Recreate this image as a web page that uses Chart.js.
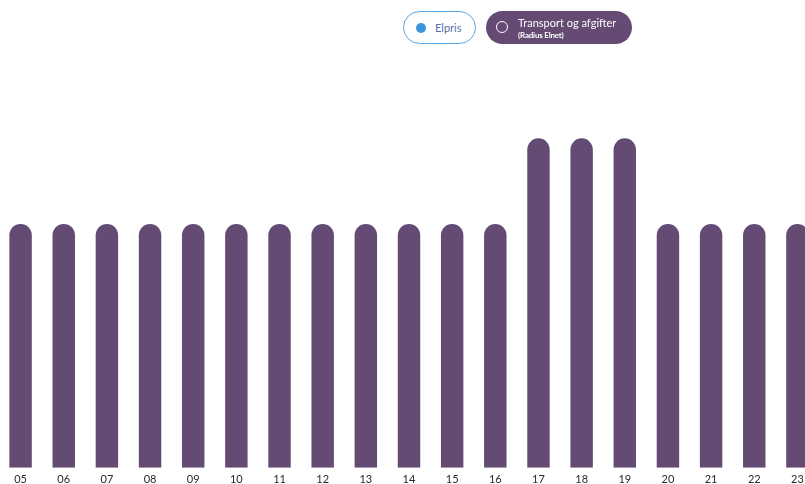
<!DOCTYPE html>
<html>
<head>
<meta charset="utf-8">
<script src="https://cdn.jsdelivr.net/npm/chart.js@4"></script>
<style>
html,body{margin:0;padding:0;background:#fff;overflow:hidden;width:805px;height:484px;}
#wrap{position:absolute;left:-1px;top:0;width:820px;height:491px;}
.pill{position:absolute;top:11px;height:33px;border-radius:17px;box-sizing:border-box;font-family:Lato,"Open Sans",sans-serif;}
#p1{left:403px;width:73px;border:1px solid #56a7e3;background:#fff;}
#p1 .dot{position:absolute;left:12px;top:11px;width:10px;height:10px;border-radius:50%;background:#3d95dd;}
#p1 .t{position:absolute;left:31px;top:9px;font-size:11px;color:#5571b0;}
#p2{left:486px;width:146px;background:#654b74;}
#p2 .ring{position:absolute;left:10px;top:10px;border-radius:50%;border:1.3px solid #fff;box-sizing:border-box;width:12px;height:12px;}
#p2 .t{position:absolute;left:32px;top:6px;font-size:11px;color:#fff;line-height:12px;white-space:nowrap;}
#p2 .s{position:absolute;left:32px;top:19px;font-size:8px;font-weight:bold;color:#fff;white-space:nowrap;letter-spacing:-0.2px;}
</style>
</head>
<body>
<div id="wrap"><canvas id="c"></canvas></div>
<div class="pill" id="p1"><div class="dot"></div><div class="t">Elpris</div></div>
<div class="pill" id="p2"><div class="ring"></div><div class="t">Transport og afgifter</div><div class="s">(Radius Elnet)</div></div>
<script>
const hours = ["05","06","07","08","09","10","11","12","13","14","15","16","17","18","19","20","21","22","23"];
const transport = [1.11,1.11,1.11,1.11,1.11,1.11,1.11,1.11,1.11,1.11,1.11,1.11,1.50,1.50,1.50,1.11,1.11,1.11,1.11];
const seriesLabel = "Transport og afgifter";

new Chart(document.getElementById('c'), {
  type: 'bar',
  data: {
    labels: hours,
    datasets: [{
      label: seriesLabel,
      data: transport,
      backgroundColor: '#644b74',
      borderWidth: 0,
      borderSkipped: 'bottom',
      borderRadius: {topLeft: 12, topRight: 12, bottomLeft: 0, bottomRight: 0},
      barPercentage: 0.52,
      categoryPercentage: 1
    }]
  },
  options: {
    responsive: true,
    maintainAspectRatio: false,
    animation: false,
    layout: {padding: 0},
    plugins: {legend: {display: false}, tooltip: {enabled: false}},
    scales: {
      x: {
        grid: {display: false, drawTicks: false},
        border: {display: false},
        ticks: {color: '#2a2a2a', font: {family: 'Lato', size: 11}, padding: 5, maxRotation: 0, autoSkip: false}
      },
      y: {
        display: false,
        min: 0,
        max: 2.13
      }
    }
  }
});
</script>
</body>
</html>
